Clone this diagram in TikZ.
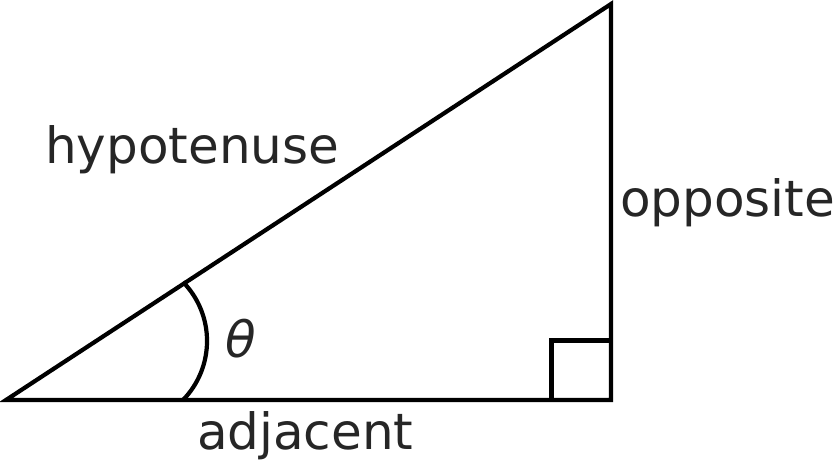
\documentclass[tikz,border=0pt]{standalone}
\usepackage{fontspec}
\setmainfont{DejaVu Sans}
\begin{document}
\begin{tikzpicture}[x=1pt,y=-1pt,
  edge/.style={line width=4.2pt,draw=black,line join=miter},
  lbl/.style={inner sep=0pt,outer sep=0pt,text=txtgray,font=\fontsize{50}{60}\selectfont,anchor=base west}]
\definecolor{txtgray}{HTML}{262626}
\useasboundingbox (0,0) rectangle (835,463);
\coordinate (A) at (6,400);
\coordinate (B) at (611,400);
\coordinate (C) at (611,4);
\draw[edge] (C) -- (A) -- (B) -- cycle;
% right angle mark
\coordinate (S1) at (551.5,400);
\coordinate (S2) at (551.5,340.5);
\coordinate (S3) at (611,340.5);
\draw[edge] (S1) -- (S2) -- (S3);
% angle arc
\coordinate (R0) at (183,400);
\draw[edge] (R0) arc[start angle=44.3,end angle=-44.3,radius=84.5];
% labels
\node[lbl] (hyp) at (45,163.5) {hypotenuse};
\node[lbl] (opp) at (620,216.5) {opposite};
\node[lbl] (adj) at (197,449) {adjacent};
\node[lbl,anchor=base] (th) at (241,357) {\itshape θ};
\end{tikzpicture}
\end{document}
